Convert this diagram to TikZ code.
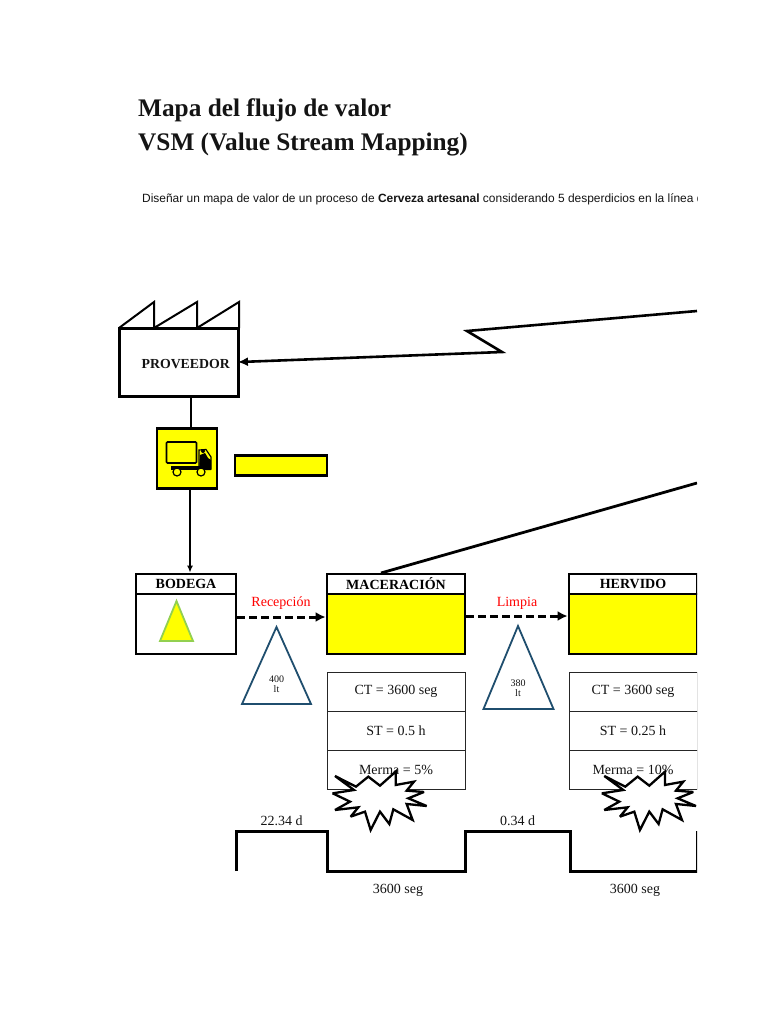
\documentclass[tikz,border=0pt]{standalone}
\usepackage{fontspec}
\setmainfont{Liberation Serif}
\setsansfont{Liberation Sans}
\usetikzlibrary{arrows.meta}
\definecolor{tealb}{RGB}{31,78,110}
\definecolor{ygreen}{RGB}{146,208,80}
\definecolor{ink}{RGB}{20,20,20}
\definecolor{pureyellow}{RGB}{255,255,0}
\newcommand{\lowered}[1]{\raisebox{-1.5pt}{#1}}
\tikzset{
  thick box/.style={draw=black,line width=2.8pt,inner sep=0pt},
  yellow box/.style={thick box,fill=pureyellow},
  head box/.style={thick box,fill=white,font=\bfseries\fontsize{14}{16}\selectfont},
  data box/.style={draw=black!85,line width=0.9pt,fill=white,inner sep=0pt,minimum width=138pt,minimum height=39pt,font=\fontsize{14}{16}\selectfont,text=ink},
  inv tri/.style={draw=tealb,line width=1.8pt,line join=miter},
  inv text/.style={inner sep=0pt,align=center,font=\fontsize{10}{12}\selectfont,text=ink},
  flow/.style={line width=2.6pt,-{Latex[length=10pt,width=9pt]}},
  push/.style={line width=3pt,dash pattern=on 8pt off 4pt,-{Latex[length=10pt,width=10pt]}},
  plain link/.style={line width=1.5pt},
  label red/.style={inner sep=0pt,text=red,font=\fontsize{14}{16}\selectfont},
  time text/.style={inner sep=0pt,text=ink,font=\fontsize{14}{16}\selectfont},
  timeline/.style={line width=3pt,line cap=butt,line join=miter},
  burst/.style={draw=black,line width=2.3pt,fill=white,line join=miter,miter limit=3}
}
\newcommand{\burstpath}{(315,468) -- (378,500) -- (415,470) -- (450,497) -- (497,455) -- (497,495) -- (552,485) -- (530,512) -- (582,516) -- (535,535) -- (590,558) -- (530,552) -- (548,600) -- (490,568) -- (478,612) -- (450,575) -- (422,630) -- (405,575) -- (362,590) -- (385,562) -- (315,570) -- (360,545) -- (308,520) -- (372,510) -- cycle}
\begin{document}
\begin{tikzpicture}[x=1pt,y=-1pt]
\useasboundingbox (0,0) rectangle (768,1024);
\fill[white] (0,0) rectangle (768,1024);

% titles
\node[anchor=west,inner sep=0pt,font=\bfseries\fontsize{25.3}{30}\selectfont,text=ink] (t1) at (138,110) {Mapa del flujo de valor};
\node[anchor=west,inner sep=0pt,font=\bfseries\fontsize{25.3}{30}\selectfont,text=ink] (t2) at (138,145) {VSM (Value Stream Mapping)};

\begin{scope}
\clip (100,185) rectangle (697,1000);
\node[anchor=west,inner sep=0pt,font=\sffamily\fontsize{11.95}{14}\selectfont,text=ink] (intro) at (142,199) {Diseñar un mapa de valor de un proceso de \textbf{Cerveza artesanal} considerando 5 desperdicios en la línea d};

% factory
\node[thick box,minimum width=119pt,minimum height=68pt] (prov) at (179,362.5) {};
\node[anchor=east,inner sep=0pt,font=\bfseries\fontsize{13.8}{16}\selectfont,text=ink] (provt) at (230,364) {PROVEEDOR};
\draw[line width=2pt,line join=miter] (119,328) -- (154,302) -- (154,328) (154,328) -- (197,302) -- (197,328) (197,328) -- (239,302) -- (239,328);

% truck box
\node[yellow box,minimum width=60pt,minimum height=60pt] (truck) at (187,458.5) {};
\node[yellow box,minimum width=92pt,minimum height=20pt] (ybar) at (281,465.5) {};
\draw[line width=1.6pt,fill=pureyellow,rounded corners=1pt] (166.5,442) rectangle (196.5,463);
\draw[line width=1.2pt,fill=pureyellow] (199,469) -- (199,450) -- (206,449.5) -- (211,457) -- (211,469) -- cycle;
\fill[black] (203,451) circle (2pt);
\fill[black] (200,455) -- (205,453) -- (208,458) -- (211,460) -- (211,470) -- (199,470) -- cycle;
\fill[black] (171,466) rectangle (211,470);
\draw[line width=1.2pt,fill=pureyellow] (177,472) circle (4pt);
\draw[line width=1.2pt,fill=pureyellow] (201,472) circle (4pt);

% process heads
\node[head box,minimum width=100pt,minimum height=20pt] (bodegah) at (186,584) {BODEGA};
\node[thick box,minimum width=100pt,minimum height=60pt] (bodega) at (186,624) {};
\draw[draw=ygreen,line width=1.8pt,fill=pureyellow] (176.5,601) -- (193,641) -- (160,641) -- cycle;

\node[head box,minimum width=138pt,minimum height=20pt] (macerh) at (396,584) {MACERACIÓN};
\node[yellow box,minimum width=138pt,minimum height=60pt] (macer) at (396,624) {};

\node[head box,minimum width=128pt,minimum height=20pt] (hervh) at (633,584) {HERVIDO};
\node[yellow box,minimum width=128pt,minimum height=60pt] (herv) at (633,624) {};

% flows
\coordinate (l1a) at (697,311);
\coordinate (l1b) at (467,331);
\coordinate (l1c) at (502,352);
\draw[flow,line join=miter,shorten >=-2pt] (l1a) -- (l1b) -- (l1c) -- (prov.east |- 0,362);
\coordinate (l2a) at (697,483);
\draw[line width=2.8pt] (l2a) -- (381,573);
\draw[plain link] (prov.south -| 191,0) -- (truck.north -| 191,0);
\draw[plain link,-{Latex[length=7pt,width=6pt]}] (truck.south -| 190,0) -- (bodegah.north -| 190,0);
\draw[push] (bodega.east |- 0,617) -- (macer.west |- 0,617);
\draw[push] (macer.east |- 0,616) -- (herv.west |- 0,616);
\node[label red] (r1) at (281,603) {Recepción};
\node[label red] (r2) at (517,603) {Limpia};

% inventory triangles
\draw[inv tri] (276.5,627) -- (311,704) -- (242,704) -- cycle;
\node[inv text] (i1) at (276.5,684) {400\\[-1.5pt]lt};
\draw[inv tri] (518,626) -- (553.5,709) -- (483.5,709) -- cycle;
\node[inv text] (i2) at (518,688) {380\\[-1.5pt]lt};

% data boxes
\node[data box] (d1) at (396,691.5) {\lowered{CT = 3600 seg}};
\node[data box] (d2) at (396,730.5) {\lowered{ST = 0.5 h}};
\node[data box] (d3) at (396,770) {Merma = 5\%};
\node[data box,minimum width=128pt] (d4) at (633,691.5) {\lowered{CT = 3600 seg}};
\node[data box,minimum width=128pt] (d5) at (633,730.5) {\lowered{ST = 0.25 h}};
\node[data box,minimum width=128pt] (d6) at (633,770) {Merma = 10\%};

% bursts
\begin{scope}[shift={(230,620)},x=0.3333pt,y=-0.3333pt]
\draw[burst] \burstpath;
\end{scope}
\begin{scope}[shift={(499.3,620)},x=0.3333pt,y=-0.3333pt]
\draw[burst] \burstpath;
\end{scope}

% timeline
\draw[timeline] (236,871) -- (236,831) -- (327,831) -- (327,871) -- (465,871) -- (465,831) -- (570,831) -- (570,871) -- (697,871) -- (697,831);
\node[time text] (tl1) at (281.5,820.5) {22.34 d};
\node[time text] (tl2) at (517.5,820.5) {0.34 d};
\node[time text] (tl3) at (398,890) {3600 seg};
\node[time text] (tl4) at (635,890) {3600 seg};
\end{scope}
\end{tikzpicture}
\end{document}
